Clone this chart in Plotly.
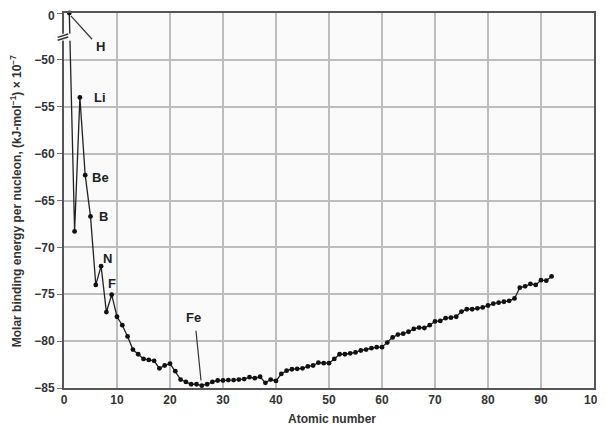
import plotly.graph_objects as go

atomic_number = list(range(1, 93))
binding_energy = [
    0, -68.3, -54.0, -62.3, -66.7, -74.0, -72.0, -76.9, -75.05, -77.4,
    -78.3, -79.5, -80.9, -81.4, -81.9, -82.0, -82.1, -82.9, -82.6, -82.4,
    -83.2, -84.1, -84.35, -84.6, -84.6, -84.75, -84.6, -84.35, -84.2, -84.2,
    -84.15, -84.15, -84.1, -84.05, -83.85, -83.95, -83.8, -84.45, -84.1, -84.25,
    -83.5, -83.15, -83.0, -82.95, -82.9, -82.7, -82.6, -82.3, -82.35, -82.35,
    -81.9, -81.4, -81.4, -81.3, -81.2, -81.0, -80.9, -80.75, -80.65, -80.65,
    -80.15, -79.6, -79.3, -79.2, -79.0, -78.7, -78.55, -78.6, -78.3, -77.9,
    -77.85, -77.55, -77.5, -77.4, -76.85, -76.6, -76.6, -76.5, -76.4, -76.2,
    -76.0, -75.9, -75.8, -75.7, -75.45, -74.3, -74.15, -73.9, -74.0, -73.5,
    -73.55, -73.1,
]
y_tick_values = [-85, -80, -75, -70, -65, -60, -55, -50, 0]
x_tick_values = [0, 10, 20, 30, 40, 50, 60, 70, 80, 90, 100]
element_labels = ["H", "Li", "Be", "B", "N", "F", "Fe"]
label_x = [6.8, 6.8, 6.8, 7.5, 8.3, 9.05, 24.5]
label_y = [-48.6, -54.05, -62.5, -66.75, -71.2, -73.8, -77.5]

# broken axis: value 0 is drawn one grid step above -50
BREAK_POS = -45
def to_axis(v):
    return BREAK_POS if v > -50 else v

y_plot = [to_axis(v) for v in binding_energy]
tick_pos = [to_axis(v) for v in y_tick_values]
# the top "0" label is drawn as an annotation so it is not clipped at the edge
tick_txt = [("" if v == 0 else "\u2212" + str(abs(v))) for v in y_tick_values]

fnt = "Liberation Sans, Arial, sans-serif"

fig = go.Figure()
fig.add_trace(go.Scatter(
    x=atomic_number, y=y_plot, mode="lines+markers",
    line=dict(color="#222", width=1.3),
    marker=dict(color="#111", size=4.8),
    cliponaxis=False, showlegend=False, hoverinfo="skip",
))

for t, x, y in zip(element_labels, label_x, label_y):
    fig.add_annotation(x=x, y=y, text="<b>" + t + "</b>", showarrow=False,
                       font=dict(family=fnt, size=13, color="#222"))

fig.add_annotation(xref="paper", yref="y", x=-0.013, y=BREAK_POS, yshift=-3,
                   text="<b>0</b>", showarrow=False, xanchor="right", yanchor="middle",
                   font=dict(family=fnt, size=12, color="#333"))

# axis titles
fig.add_annotation(xref="paper", yref="paper", x=0.505, y=-0.083,
                   text="<b>Atomic number</b>", showarrow=False,
                   xanchor="center", yanchor="middle",
                   font=dict(family=fnt, size=12, color="#333"))
fig.add_annotation(xref="paper", yref="paper", x=-0.091, y=0.5, textangle=-90,
                   text="<b>Molar binding energy per nucleon, (kJ-mol<sup>\u22121</sup>) \u00d7 10<sup>\u22127</sup></b>",
                   showarrow=False, xanchor="center", yanchor="middle",
                   font=dict(family=fnt, size=12, color="#333"))

shapes = [
    # leader lines
    dict(type="line", xref="x", yref="y", x0=1.3, y0=-45.3, x1=5.3, y1=-47.8,
         line=dict(color="#333", width=1.2)),
    dict(type="line", xref="x", yref="y", x0=24.9, y0=-78.9, x1=25.85, y1=-84.2,
         line=dict(color="#333", width=1.2)),
    # axis break gap
    dict(type="rect", xref="paper", yref="y", x0=-0.02, x1=0.03, y0=-47.95, y1=-47.2,
         fillcolor="#fafafa", line=dict(width=0), layer="above"),
    dict(type="line", xref="paper", yref="y", x0=-0.012, x1=0.008, y0=-47.9, y1=-47.55,
         line=dict(color="#333", width=1.5), layer="above"),
    dict(type="line", xref="paper", yref="y", x0=-0.012, x1=0.008, y0=-47.6, y1=-47.25,
         line=dict(color="#333", width=1.5), layer="above"),
]

# page body has an 8px margin: figure is sized to fit inside the window
fig.update_layout(
    width=597, height=417,
    margin=dict(l=56, r=11, t=5, b=37, autoexpand=False),
    paper_bgcolor="white", plot_bgcolor="#fafafa",
    font=dict(family=fnt, size=12, color="#333"),
    shapes=shapes,
)
fig.update_xaxes(
    range=[0, 100], tickvals=x_tick_values, showgrid=True, automargin=False,
    gridcolor="#bdbdbd", gridwidth=1.7, showline=True, linecolor="#555",
    linewidth=2, mirror=True, ticks="", zeroline=False,
    ticklabeloverflow="allow",
    tickfont=dict(family=fnt, size=12, color="#333", weight="bold"),
)
fig.update_yaxes(
    range=[-85, BREAK_POS], tickvals=tick_pos, ticktext=tick_txt, showgrid=True,
    automargin=False, ticklabeloverflow="allow",
    gridcolor="#bdbdbd", gridwidth=1.7, showline=True, linecolor="#555",
    linewidth=2, mirror=True, ticks="outside", ticklen=5, tickcolor="#777",
    zeroline=False,
    tickfont=dict(family=fnt, size=12, color="#333", weight="bold"),
)

fig.write_html("out.html")
